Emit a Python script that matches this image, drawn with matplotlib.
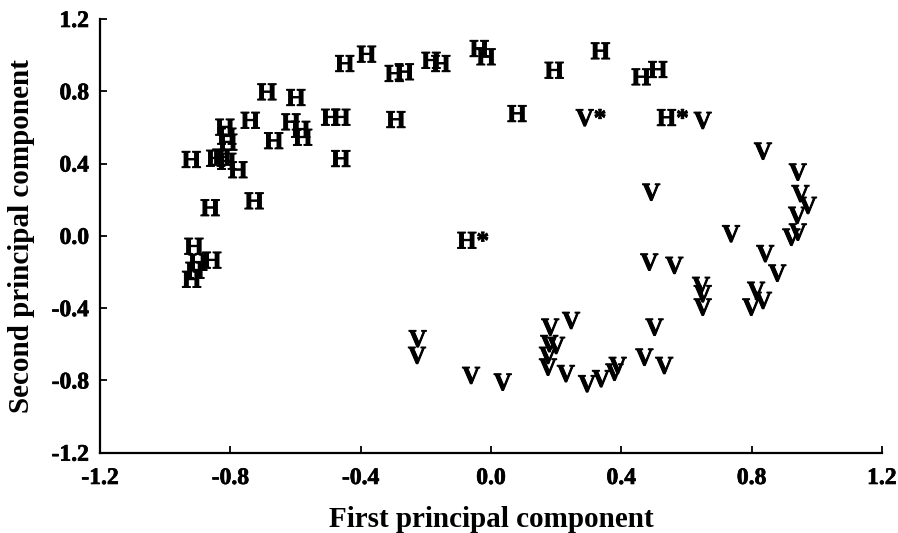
import matplotlib
matplotlib.use("Agg")
import matplotlib.pyplot as plt
import matplotlib.patheffects as pe

plt.rcParams['font.family'] = ['Liberation Serif', 'DejaVu Serif']
plt.rcParams['font.weight'] = 'bold'

# H group (first PC, second PC)
h_x = [-0.449, -0.382, -0.297, -0.266, -0.184, -0.154, -0.036, -0.015, 0.194, 0.336,
       0.461, 0.512, 0.080, -0.292, -0.492, -0.461, -0.461, -0.688, -0.599, -0.739,
       -0.614, -0.584, -0.578, -0.667, -0.817, -0.811, -0.808, -0.920, -0.845, -0.826,
       -0.811, -0.777, -0.862, -0.727, -0.912, -0.900, -0.857, -0.909, -0.919]
h_y = [0.954, 1.006, 0.899, 0.908, 0.972, 0.954, 1.037, 0.991, 0.917, 1.024,
       0.880, 0.921, 0.677, 0.644, 0.657, 0.657, 0.428, 0.797, 0.766, 0.640,
       0.631, 0.590, 0.546, 0.527, 0.602, 0.552, 0.519, 0.423, 0.430, 0.436,
       0.413, 0.366, 0.156, 0.194, -0.057, -0.146, -0.134, -0.190, -0.240]

# V group
v_x = [0.650, 0.492, 0.835, 0.942, 0.950, 0.973, 0.940, 0.922, 0.942, 0.737,
       0.842, 0.879, 0.486, 0.563, 0.645, 0.650, 0.650, 0.814, 0.835, 0.799,
       0.502, 0.471, 0.532, -0.225, -0.227, -0.061, 0.036, 0.182, 0.246, 0.179,
       0.200, 0.175, 0.175, 0.230, 0.295, 0.338, 0.379, 0.389]
v_y = [0.640, 0.243, 0.470, 0.354, 0.235, 0.170, 0.115, -0.006, 0.022, 0.013,
       -0.097, -0.205, -0.144, -0.162, -0.273, -0.319, -0.393, -0.300, -0.356, -0.393,
       -0.504, -0.670, -0.716, -0.568, -0.660, -0.771, -0.808, -0.504, -0.467, -0.595,
       -0.605, -0.660, -0.725, -0.761, -0.817, -0.789, -0.753, -0.716]

# Marked points
star_labels = ['H*', 'H*', 'V*']
star_x = [-0.055, 0.558, 0.307]
star_y = [-0.024, 0.655, 0.655]

ticks = [-1.2, -0.8, -0.4, 0.0, 0.4, 0.8, 1.2]
tick_labels = ['-1.2', '-0.8', '-0.4', '0.0', '0.4', '0.8', '1.2']

fig = plt.figure(figsize=(8.98, 5.33), dpi=100)
ax = fig.add_axes([0.1114, 0.1507, 0.8706, 0.8137])

fs = 18
cap_off = -0.662 * fs / 2
bold_fx = [pe.withStroke(linewidth=0.7, foreground='black')]

def put(lbl, x, y):
    ax.annotate(lbl, (x, y), xytext=(0, cap_off), textcoords='offset points',
                ha='center', va='baseline', fontsize=fs, fontweight='bold',
                color='black', path_effects=bold_fx)

for x, y in zip(h_x, h_y):
    put('H', x, y)
for x, y in zip(v_x, v_y):
    put('V', x, y)
for l, x, y in zip(star_labels, star_x, star_y):
    put(l, x, y)

ax.set_xlim(-1.2, 1.2)
ax.set_ylim(-1.2, 1.2)
ax.set_xticks(ticks)
ax.set_xticklabels(tick_labels)
ax.set_yticks(ticks)
ax.set_yticklabels(tick_labels)
for s in ['top', 'right']:
    ax.spines[s].set_visible(False)
for s in ['left', 'bottom']:
    ax.spines[s].set_linewidth(1.6)
ax.tick_params(direction='in', length=5, width=1.3, labelsize=17)
ax.tick_params(axis='x', pad=11)
ax.tick_params(axis='y', pad=8)
for lab in ax.get_xticklabels() + ax.get_yticklabels():
    lab.set_fontweight('bold')
    lab.set_path_effects([pe.withStroke(linewidth=0.5, foreground='black')])

ax.set_xlabel('First principal component', fontsize=21, fontweight='bold', labelpad=12)
ax.set_ylabel('Second principal component', fontsize=21, fontweight='bold', labelpad=12)

fig.savefig('out.png', dpi=100)
